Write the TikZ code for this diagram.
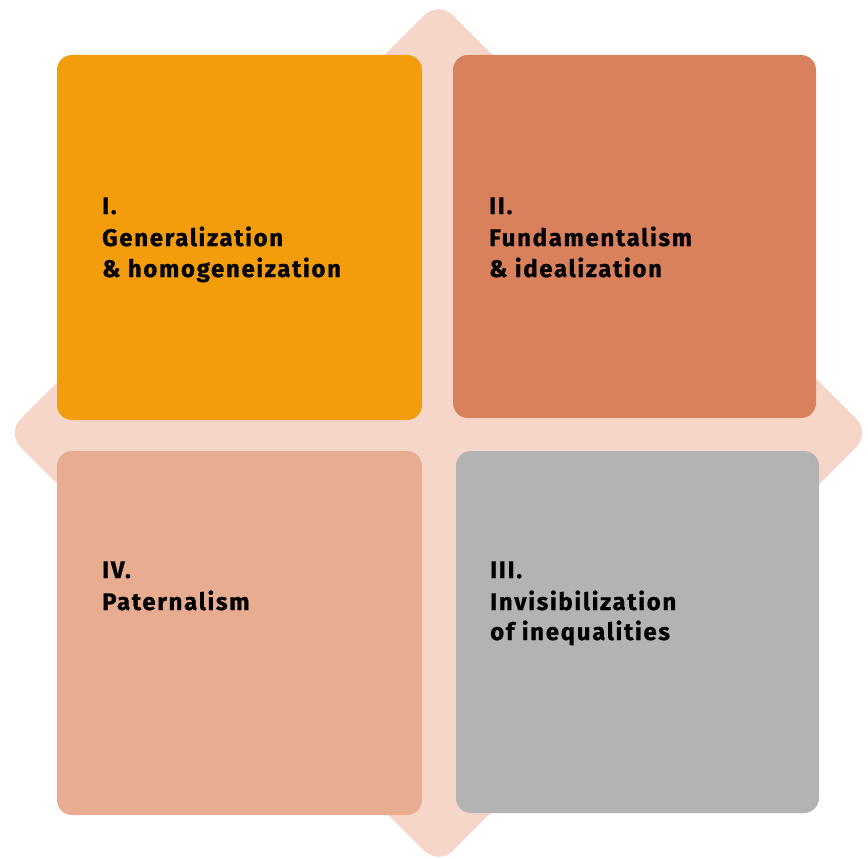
\documentclass[tikz,border=0pt]{standalone}
\usepackage{fontspec}
\setmainfont{Fira Sans}[Ligatures=NoCommon, LetterSpace=7, BoldFeatures={FakeBold=0.8}]
\definecolor{diamondfill}{HTML}{F5D6C8}
\definecolor{quadA}{HTML}{F39C0C}
\definecolor{quadB}{HTML}{D9805D}
\definecolor{quadC}{HTML}{B3B3B3}
\definecolor{quadD}{HTML}{E8AC90}
\begin{document}
\begin{tikzpicture}[x=1pt,y=-1pt,
  quad/.style={rounded corners=15pt, draw=none},
  label/.style={anchor=base west, inner sep=0pt, font=\fontsize{24}{28}\selectfont\bfseries, text=black}]
\useasboundingbox (0,0) rectangle (868,859);
% background diamond
\fill[diamondfill, rounded corners=20pt] (438.5,1) -- (870.5,433) -- (438.5,865) -- (6.5,433) -- cycle;
% four quadrants
\fill[quad, quadA] (57,55) rectangle (422,420);
\fill[quad, quadB] (453,55) rectangle (816,418);
\fill[quad, quadC] (456,451) rectangle (819,813);
\fill[quad, quadD] (57,451) rectangle (422,815);
% labels
\node[label] (q1a) at (102,214) {I.};
\node[label] (q1b) at (102,246) {Generalization};
\node[label] (q1c) at (102,277) {\& homogeneization};
\node[label] (q2a) at (489,214) {II.};
\node[label] (q2b) at (489,246) {Fundamentalism};
\node[label] (q2c) at (489,277) {\& idealization};
\node[label] (q3a) at (490,578) {III.};
\node[label] (q3b) at (490,610) {Invisibilization};
\node[label] (q3c) at (490,640) {of inequalities};
\node[label] (q4a) at (102,578) {IV.};
\node[label] (q4b) at (102,610) {Paternalism};
\end{tikzpicture}
\end{document}
